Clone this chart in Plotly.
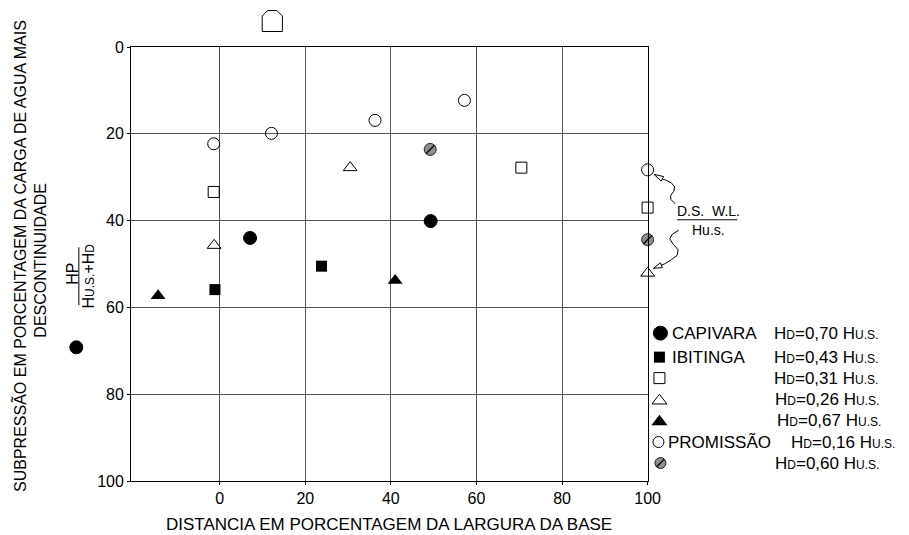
import math
import plotly.graph_objects as go

W, H = 909, 535
PL, PR, PT, PB = 133, 657, 46.5, 481   # plot-area edges in pixels
FONT = "Liberation Sans, Arial, sans-serif"

# ---------------- data ----------------
X_RANGE = [-20.7, 100]
Y_RANGE = [100, 0]
x_ticks = [0, 20, 40, 60, 80, 100]
y_ticks = [0, 20, 40, 60, 80, 100]

capivara_x = [7.1, 49.3, -33.5]
capivara_y = [44.0, 40.1, 69.2]
ibitinga_x = [-1.1, 23.8]
ibitinga_y = [55.9, 50.5]
open_square_x = [-1.4, 70.5, 100]
open_square_y = [33.4, 27.8, 37.0]
open_triangle_x = [-1.3, 30.5, 100]
open_triangle_y = [45.7, 27.8, 52.1]
filled_triangle_x = [-14.4, 41.0]
filled_triangle_y = [57.3, 53.8]
promissao_x = [-1.4, 12.1, 36.3, 57.2, 100]
promissao_y = [22.3, 19.9, 16.9, 12.3, 28.3]
hatched_x = [49.2, 100]
hatched_y = [23.6, 44.4]

legend_names = ["CAPIVARA", "IBITINGA", "", "", "", "PROMISSÃO", ""]
legend_hd = ["0,70", "0,43", "0,31", "0,26", "0,67", "0,16", "0,60"]

# ---------------- helpers ----------------
def px(xp):
    return xp / W

def py(yp):
    return (PB - yp) / (PB - PT)

def path_from(points, close=False):
    s = "M " + " L ".join(f"{px(a):.5f},{py(b):.5f}" for a, b in points)
    return s + (" Z" if close else "")

def smallcaps(t):
    return f"<span style='font-size:12px'>{t}</span>"

HD_TXT = "H" + smallcaps("D")
HUS_TXT = "H" + smallcaps("U.S.")

# symbol styles
STY = {
    "fcircle": dict(symbol="circle", color="black", line=dict(color="black", width=1)),
    "fsquare": dict(symbol="square", color="black", line=dict(color="black", width=0)),
    "osquare": dict(symbol="square-open", color="black", line=dict(color="black", width=1)),
    "otri": dict(symbol="triangle-up-open", color="black", line=dict(color="black", width=1)),
    "ftri": dict(symbol="triangle-up", color="black", line=dict(color="black", width=0)),
    "ocircle": dict(symbol="circle-open", color="black", line=dict(color="black", width=1)),
    "hatch": dict(symbol="circle", color="#8f8f8f", line=dict(color="#222", width=1)),
}

fig = go.Figure()

def add(xs, ys, key, size, xa="x", ya="y", clip=True):
    st = STY[key]
    fig.add_trace(go.Scatter(
        x=xs, y=ys, mode="markers", xaxis=xa, yaxis=ya, cliponaxis=clip,
        marker=dict(symbol=st["symbol"], size=size, color=st["color"], line=st["line"]),
        showlegend=False, hoverinfo="skip"))
    if key == "hatch":
        fig.add_trace(go.Scatter(
            x=xs, y=ys, mode="markers", xaxis=xa, yaxis=ya, cliponaxis=clip,
            marker=dict(symbol="line-ne", size=size * 0.7,
                        line=dict(color="#111", width=1.5)),
            showlegend=False, hoverinfo="skip"))

add(promissao_x, promissao_y, "ocircle", 12, clip=False)
add(open_square_x, open_square_y, "osquare", 11, clip=False)
add(open_triangle_x, open_triangle_y, "otri", 12, clip=False)
add(hatched_x, hatched_y, "hatch", 12, clip=False)
add(ibitinga_x, ibitinga_y, "fsquare", 11, clip=False)
add(filled_triangle_x, filled_triangle_y, "ftri", 13, clip=False)
# Capivara on an extended, invisible axis with identical scale (one point lies left of the frame)
add(capivara_x, capivara_y, "fcircle", 13, xa="x2", ya="y2", clip=False)

# legend markers on a pixel-unit axis pair
leg_rows = [333, 357, 378, 399, 420, 442, 463]
leg_keys = ["fcircle", "fsquare", "osquare", "otri", "ftri", "ocircle", "hatch"]
leg_sizes = [14, 11, 11, 13, 14, 11, 11]
leg_x = [670, 669, 669, 669, 669, 668, 670]
for r, k, s, lx in zip(leg_rows, leg_keys, leg_sizes, leg_x):
    yy = r + (s / 8 if k in ("otri", "ftri") else 0)
    add([lx], [yy], k, s, xa="x3", ya="y3", clip=False)

# legend texts
ann = []
for i, (r, nm, hd) in enumerate(zip(leg_rows, legend_names, legend_hd)):
    if nm:
        ann.append(dict(x=px(680 if nm != "PROMISSÃO" else 676), y=py(r), xref="paper", yref="paper",
                        text=nm, showarrow=False, xanchor="left", yanchor="middle",
                        font=dict(size=17)))
    hx = 800 if nm == "PROMISSÃO" else [783, 783, 783, 784, 786, 800, 784][i]
    ann.append(dict(x=px(hx), y=py(r), xref="paper", yref="paper",
                    text=f"{HD_TXT}={hd} {HUS_TXT}", showarrow=False,
                    xanchor="left", yanchor="middle", font=dict(size=17)))

# axis titles
ann.append(dict(x=px(395), y=py(525), xref="paper", yref="paper", showarrow=False,
                text="DISTANCIA EM PORCENTAGEM DA LARGURA DA BASE", font=dict(size=17),
                xanchor="center", yanchor="middle"))
ann.append(dict(x=px(20), y=py(256), xref="paper", yref="paper", showarrow=False, textangle=-90,
                text="SUBPRESSÃO EM PORCENTAGEM DA CARGA DE AGUA MAIS", font=dict(size=16),
                xanchor="center", yanchor="middle"))
ann.append(dict(x=px(41), y=py(260), xref="paper", yref="paper", showarrow=False, textangle=-90,
                text="DESCONTINUIDADE", font=dict(size=16), xanchor="center", yanchor="middle"))
ann.append(dict(x=px(73.5), y=py(273), xref="paper", yref="paper", showarrow=False, textangle=-90,
                text="HP", font=dict(size=16), xanchor="center", yanchor="middle"))
ann.append(dict(x=px(89.5), y=py(276), xref="paper", yref="paper", showarrow=False, textangle=-90,
                text=f"{HUS_TXT}+{HD_TXT}", font=dict(size=16), xanchor="center", yanchor="middle"))

# D.S. W.L. / Hu.s. note
ann.append(dict(x=px(719), y=py(211), xref="paper", yref="paper", showarrow=False,
                text="D.S.  W.L.", font=dict(size=14), xanchor="center", yanchor="middle"))
ann.append(dict(x=px(719), y=py(230), xref="paper", yref="paper", showarrow=False,
                text="Hu.s.", font=dict(size=14), xanchor="center", yanchor="middle"))

shapes = []
line_k = dict(color="black", width=1)
# fraction bars
shapes.append(dict(type="line", xref="paper", yref="paper", x0=px(80), x1=px(80),
                   y0=py(247), y1=py(305), line=line_k))
shapes.append(dict(type="line", xref="paper", yref="paper", x0=px(687), x1=px(748),
                   y0=py(219.5), y1=py(219.5), line=line_k))
# dam icon above the plot
dam = [(266, 31), (266, 15.5), (271.5, 10), (281, 10), (286.5, 15.5), (286.5, 31)]
shapes.append(dict(type="path", xref="paper", yref="paper", path=path_from(dam, True),
                   line=line_k, fillcolor="white"))

def curve(points):
    return dict(type="path", xref="paper", yref="paper", path=path_from(points),
                line=dict(color="black", width=1))

def head(tip, base, half=2.6):
    dx, dy = tip[0] - base[0], tip[1] - base[1]
    L = math.hypot(dx, dy)
    nx, ny = -dy / L * half, dx / L * half
    pts = [tip, (base[0] + nx, base[1] + ny), (base[0] - nx, base[1] - ny)]
    return dict(type="path", xref="paper", yref="paper", path=path_from(pts, True),
                line=dict(color="black", width=1), fillcolor="white")

upper = [(685, 203.5), (680.5, 199), (680.5, 195), (683.5, 191), (684.5, 186.5),
         (681, 182.5), (676, 180), (672, 178.5)]
lower = [(688.5, 230), (682, 234), (679.5, 238.5), (683, 244), (688, 249.5),
         (687, 255), (681, 259.5), (674.5, 263.5), (671, 265)]
shapes += [curve(upper), head((663.5, 174), (672, 178.5)),
           curve(lower), head((663, 268), (671, 265))]

# extended x axis (same scale as main x axis) covering the left margin
scale = (X_RANGE[1] - X_RANGE[0]) / (PR - PL)
x_ext = [X_RANGE[1] - PR * scale, X_RANGE[1]]

axis_common = dict(showgrid=True, gridcolor="#555555", gridwidth=1, zeroline=False,
                   showline=True, linecolor="black", linewidth=1, mirror=True,
                   ticks="outside", ticklen=3, tickcolor="black",
                   tickfont=dict(size=16, color="black"))

fig.update_layout(
    width=W, height=H, autosize=False,
    margin=dict(l=0, r=0, t=PT, b=H - PB, pad=0),
    paper_bgcolor="white", plot_bgcolor="rgba(0,0,0,0)",
    font=dict(family=FONT, color="black", size=16),
    showlegend=False,
    xaxis=dict(domain=[PL / W, PR / W], range=X_RANGE, tickmode="array", tickvals=x_ticks,
               anchor="y", **axis_common),
    yaxis=dict(domain=[0, 1], range=Y_RANGE, tickmode="array", tickvals=y_ticks,
               anchor="x", **axis_common),
    xaxis2=dict(domain=[0, PR / W], range=x_ext, visible=False, anchor="y2"),
    yaxis2=dict(domain=[0, 1], range=Y_RANGE, visible=False, anchor="x2"),
    xaxis3=dict(domain=[PR / W, 1], range=[PR, W], visible=False, anchor="y3"),
    yaxis3=dict(domain=[0, 1], range=[PB, PT], visible=False, anchor="x3"),
    annotations=ann,
    shapes=shapes,
)

fig.write_html("out.html")
